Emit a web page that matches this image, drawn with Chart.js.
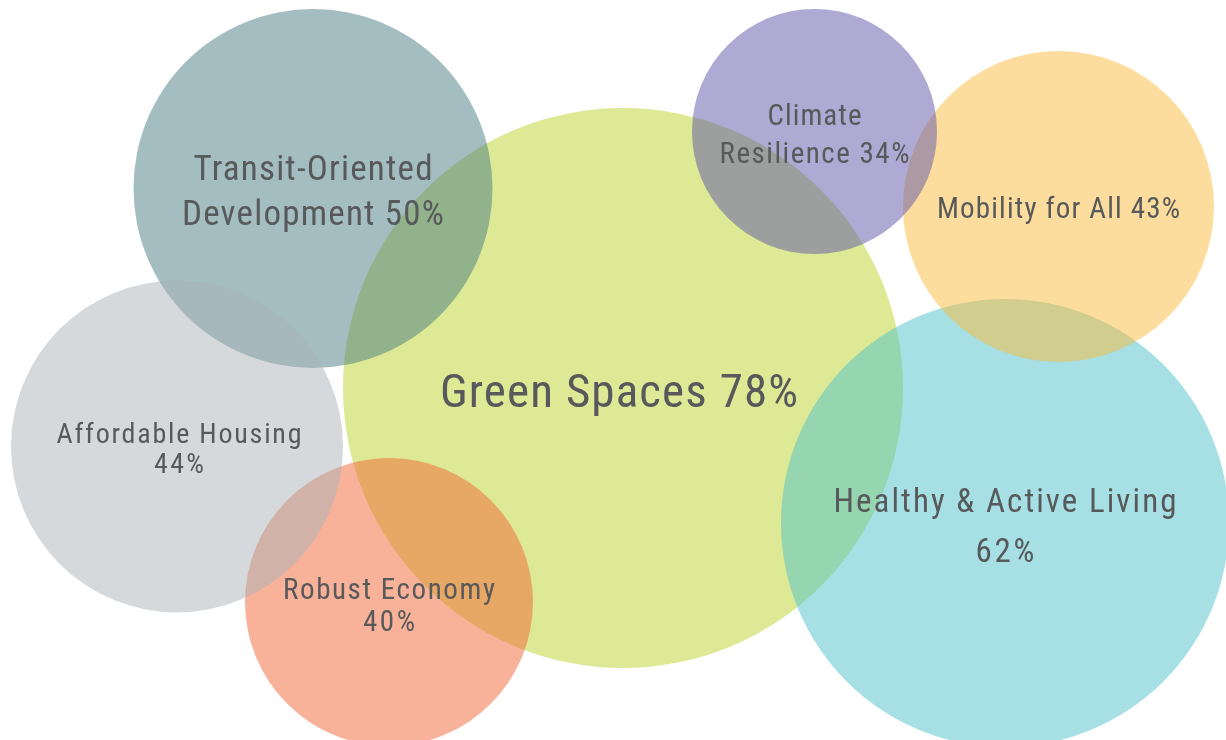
<!DOCTYPE html>
<html>
<head>
<meta charset="utf-8">
<script src="https://cdn.jsdelivr.net/npm/chart.js@4.4.0/dist/chart.umd.min.js"></script>
<style>
html, body { margin: 0; padding: 0; background: #fff; }
#myChart { position: absolute; left: 0; top: 0; width: 1226px; height: 740px; }
</style>
</head>
<body>
<canvas id="myChart" width="1226" height="740"></canvas>
<script>
// topics, drawn bottom to top
var topics = ["Green Spaces", "Transit-Oriented Development", "Robust Economy", "Affordable Housing",
              "Healthy & Active Living", "Mobility for All", "Climate Resilience"];
var percents = [78, 50, 40, 44, 62, 43, 34];
// bubble centres on a 0-1226 by 0-740 grid (y from the top) and bubble radii
var centerX = [623, 313, 389, 177, 1005, 1058.5, 814.5];
var centerY = [388, 188.5, 602, 446.5, 523, 206.5, 131.5];
var bubbleR = [280, 179.5, 144, 166, 224, 155.5, 122.5];
// number of words before the line break (0 = one line)
var breakAfter = [0, 1, 2, 2, 4, 0, 1];

var colors = [
    'rgba(189, 211, 45, 0.5)',
    'rgba(71, 123, 131, 0.5)',
    'rgba(241, 101, 53, 0.5)',
    'rgba(171, 179, 185, 0.5)',
    'rgba(77, 193, 201, 0.5)',
    'rgba(251, 187, 59, 0.5)',
    'rgba(93, 85, 169, 0.5)'
];

// label look: font size, x shift, baseline offsets and line widths
var labelStyle = [
    { size: 47, dx: -4, base: [19], widths: [358] },
    { size: 35, dx: 0, base: [-8.5, 36.5], widths: [239, 262] },
    { size: 29, dx: 0, base: [-3, 29], widths: [212, 52] },
    { size: 28, dx: 2, base: [-3.5, 26.5], widths: [245, 50] },
    { size: 33, dx: 0, base: [-11, 39], widths: [343, 59] },
    { size: 29, dx: 0, base: [11.5], widths: [243] },
    { size: 29, dx: 0, base: [-6.5, 31.5], widths: [94, 190] }
];

function labelLines(i) {
    var words = (topics[i] + ' ' + percents[i] + '%').split(' ');
    if (!breakAfter[i]) return [words.join(' ')];
    return [words.slice(0, breakAfter[i]).join(' '), words.slice(breakAfter[i]).join(' ')];
}

var points = topics.map(function (t, i) {
    return { x: centerX[i], y: centerY[i], r: bubbleR[i] };
});

var bubbleLabels = {
    id: 'bubbleLabels',
    afterDatasetsDraw: function (chart) {
        var c = chart.ctx;
        var meta = chart.getDatasetMeta(0);
        c.save();
        c.fillStyle = '#58595b';
        c.textAlign = 'center';
        c.textBaseline = 'alphabetic';
        meta.data.forEach(function (pt, i) {
            var st = labelStyle[i];
            c.font = st.size + 'px "Liberation Sans Narrow", "Roboto Condensed", "DejaVu Sans Condensed", sans-serif';
            labelLines(i).forEach(function (line, j) {
                c.letterSpacing = '0px';
                var w = c.measureText(line).width;
                var ls = (st.widths[j] - w) / Math.max(line.length - 1, 1);
                c.letterSpacing = ls + 'px';
                c.fillText(line, pt.x + st.dx + ls / 2, pt.y + st.base[j]);
            });
        });
        c.restore();
    }
};

var ctx = document.getElementById('myChart');
const myChart = new Chart(ctx, {
    type: 'bubble',
    data: {
        datasets: [{
            data: points,
            backgroundColor: colors,
            borderWidth: 0,
            hoverRadius: 0
        }]
    },
    options: {
        responsive: false,
        animation: false,
        events: [],
        layout: { autoPadding: false, padding: 0 },
        scales: {
            x: { type: 'linear', min: 0, max: 1226, display: false },
            y: { type: 'linear', min: 0, max: 740, reverse: true, display: false }
        },
        plugins: {
            legend: { display: false },
            tooltip: { enabled: false }
        }
    },
    plugins: [bubbleLabels]
});
</script>
</body>
</html>
